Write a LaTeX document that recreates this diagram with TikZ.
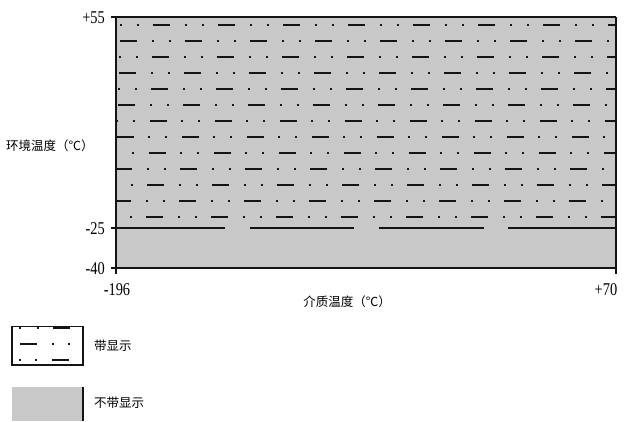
\documentclass[tikz,border=0pt]{standalone}
\usepackage{fontspec}
\usepackage{graphicx}
\setmainfont{Liberation Serif}
\newfontfamily\cjk{Noto Sans CJK SC}
\definecolor{fillgray}{RGB}{200,200,200}
\definecolor{ink}{RGB}{20,20,20}
\tikzset{
  numlab/.style={inner sep=0pt, font=\fontsize{18}{18}\selectfont},
  cjklab/.style={inner sep=0pt, font=\cjk\fontsize{12.5}{13}\selectfont},
  frame/.style={draw=ink, line width=2.3pt},
  patdash/.style={draw=ink},
}
\newcommand{\narrow}[1]{\scalebox{0.8}[1]{#1}}
\newcommand{\patdot}[2]{\fill[ink] ({#1-1},{#2-1}) rectangle ++(2,2);}
\begin{document}
\begin{tikzpicture}[x=1pt,y=-1pt]
\useasboundingbox (0,0) rectangle (624,421);
% plot area
\fill[fillgray] (116,17.3) rectangle (616,267.7);
\begin{scope}
\clip (116,17.3) rectangle (616,267.7);
\foreach \i in {1,...,13}{
  \pgfmathsetmacro\yy{25+(\i-1)*15.975}
  \pgfmathsetmacro\ss{153.3-0.6*(\i-1)-32.5*(1-mod(\i,2))}
  \pgfmathsetmacro\lw{(mod(\i,5)==1) ? 2.2 : 1.6}
  \foreach \k in {-3,...,8}{
    \draw[patdash, line width=\lw pt] ({\ss+65*\k},\yy) -- ++(17,0);
    \patdot{\ss+65*\k+32.7}{\yy}
    \patdot{\ss+65*\k+49.7}{\yy}
  }
}
\end{scope}
% -25 line
\draw[frame] (111,228.3) -- (225,228.3);
\draw[frame] (250,228.3) -- (354,228.3);
\draw[frame] (379,228.3) -- (484,228.3);
\draw[frame] (508,228.3) -- (616,228.3);
% frame
\draw[frame] (111,17.3) -- (616,17.3);
\draw[frame] (111,267.7) -- (616,267.7);
\draw[frame] (116,17.3) -- (116,273.5);
\draw[frame] (616,17.3) -- (616,274);
% axis labels
\node[numlab, anchor=east] (t55) at (105,18) {\narrow{+55}};
\node[numlab, anchor=east] (t25) at (105,229) {\narrow{-25}};
\node[numlab, anchor=east] (t40) at (105,269) {\narrow{-40}};
\node[numlab] (tx1) at (117,290) {\narrow{-196}};
\node[numlab] (tx2) at (606,290) {\narrow{+70}};
\node[cjklab] (xlab) at (347,302) {介质温度（℃）};
\node[cjklab, anchor=west] (ylab) at (6,146) {环境温度（℃）};
% legend 1
\draw[ink, line width=1.3pt, fill=white] (12,326.7) rectangle (83,365);
\begin{scope}
\clip (12,326.7) rectangle (83,365);
\patdot{20}{327.5}
\patdot{37.7}{327.5}
\draw[patdash, line width=2.2pt] (53,327.5) -- (70,327.5);
\draw[patdash, line width=2.2pt] (20,344) -- (36.7,344);
\patdot{53.3}{344}
\patdot{69.3}{344}
\patdot{20}{360}
\patdot{36}{360}
\draw[patdash, line width=1.6pt] (51.7,360) -- (69.3,360);
\end{scope}
\node[cjklab, anchor=west] (leg1) at (94,346) {带显示};
% legend 2
\fill[fillgray] (12,386.7) rectangle (83,421);
\draw[ink, line width=1.3pt] (83,386.7) -- (83,421);
\node[cjklab, anchor=west] (leg2) at (94,403) {不带显示};
\end{tikzpicture}
\end{document}
